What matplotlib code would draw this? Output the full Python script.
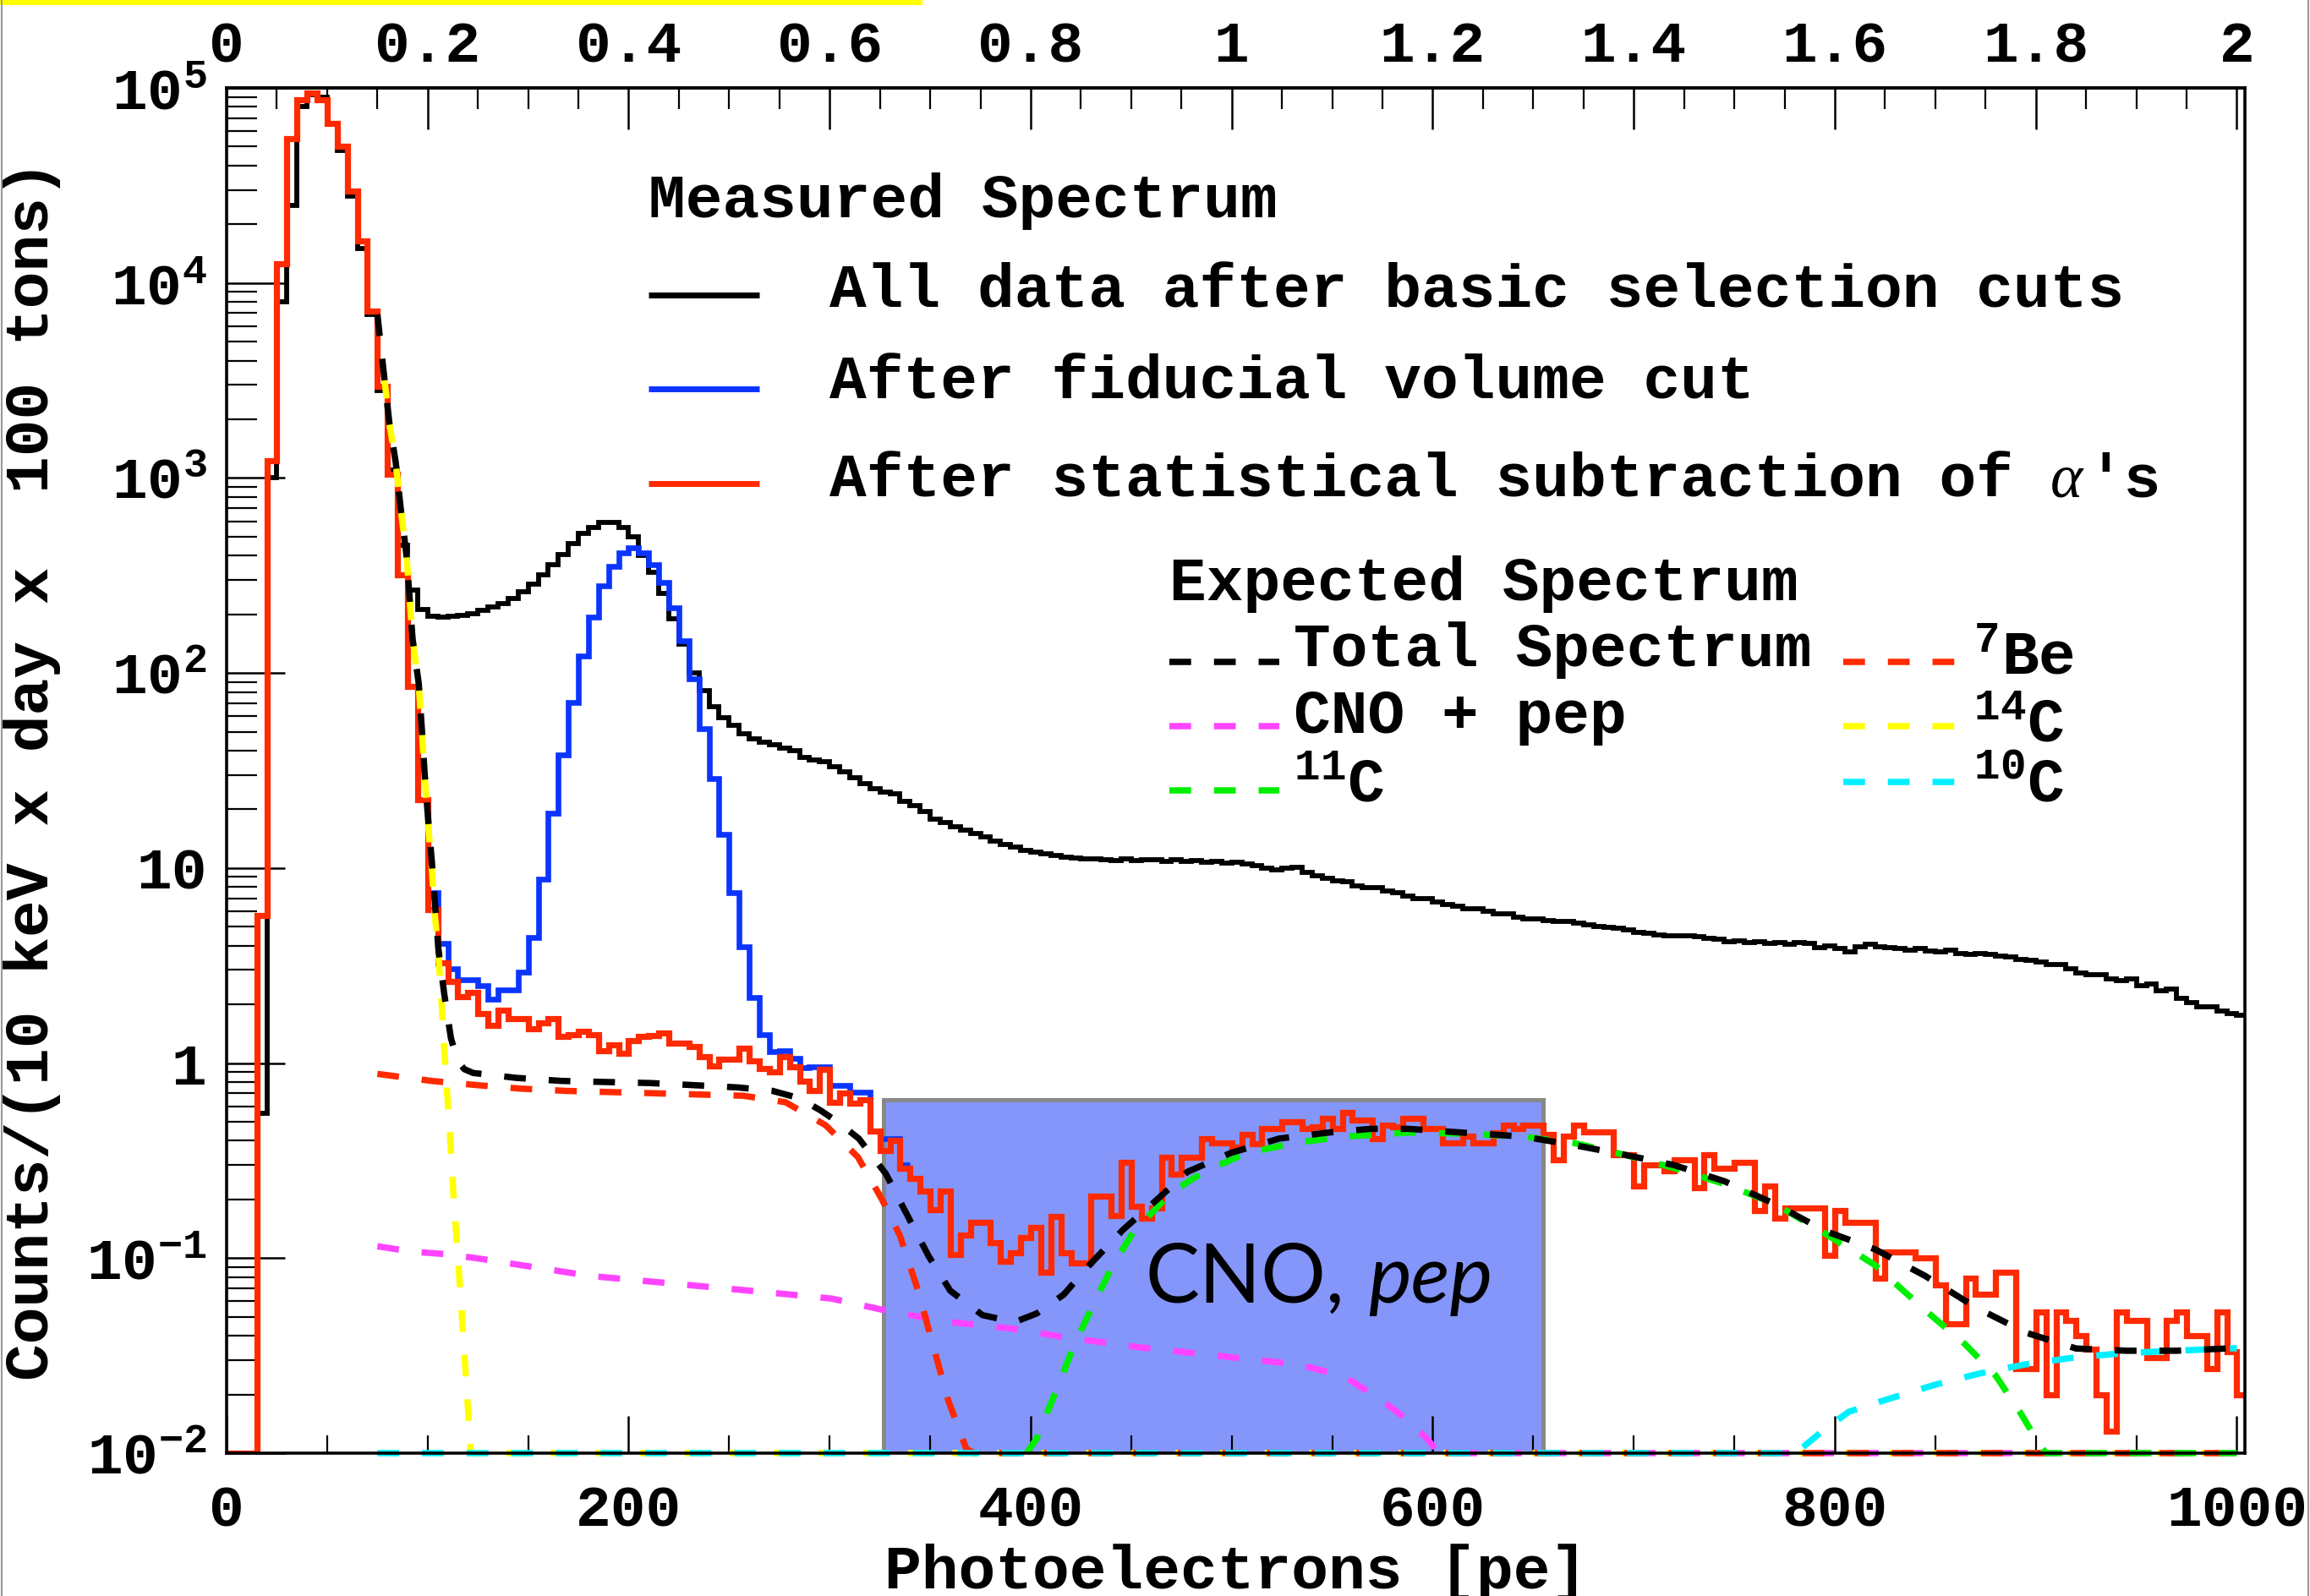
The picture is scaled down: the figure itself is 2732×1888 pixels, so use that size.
import numpy as np
import matplotlib
matplotlib.use("Agg")
import matplotlib.pyplot as plt
from matplotlib.lines import Line2D
from matplotlib.patches import Rectangle
from matplotlib.ticker import (MultipleLocator, LogLocator, NullFormatter,
                               FixedLocator, FixedFormatter, FuncFormatter)

# ---------------------------------------------------------------- data
# 5 pe wide bins, lower edges 0 ... 1000 pe
bin_starts = list(range(0, 1001, 5))
bin_width = 5

# all data after basic selection cuts
all_data_counts = [
    0.01, 0.01, 0.01, 0.55, 1000, 8000, 25000, 80000, 92000, 90000,     # 0-45
    65000, 48000, 28000, 15000, 6900, 2800, 1100, 450, 267, 212,        # 50-95
    196, 194, 196, 198, 202, 210, 218, 228, 240, 262,                   # 100-145
    286, 318, 359, 406, 462, 519, 560, 594, 594, 560,                   # 150-195
    500, 400, 330, 255, 190, 140, 100, 81, 67, 59,                      # 200-245
    54, 49, 46, 44, 43, 41, 40, 37, 36, 35,                             # 250-295
    33, 31, 29, 27, 25.5, 24.5, 24, 22, 21, 19.5,                       # 300-345
    17.8, 17.2, 16.3, 15.6, 15.0, 14.5, 13.8, 13.2, 12.8, 12.3,         # 350-395
    12.1, 11.8, 11.6, 11.4, 11.3, 11.1, 11.1, 11.0, 10.9, 11.1,         # 400-445
    10.9, 11.0, 11.0, 10.8, 11.0, 10.8, 10.9, 10.7, 10.8, 10.6,         # 450-495
    10.7, 10.5, 10.3, 10.0, 9.8, 10.0, 10.1, 9.5, 9.1, 8.9,             # 500-545
    8.6, 8.5, 8.1, 7.9, 7.9, 7.6, 7.5, 7.2, 7.0, 7.0,                   # 550-595
    6.7, 6.5, 6.4, 6.2, 6.2, 6.0, 5.8, 5.8, 5.6, 5.5,                   # 600-645
    5.5, 5.4, 5.3, 5.3, 5.2, 5.1, 5.0, 4.95, 4.9, 4.8,                  # 650-695
    4.7, 4.65, 4.55, 4.5, 4.5, 4.5, 4.45, 4.35, 4.3, 4.2,               # 700-745
    4.25, 4.15, 4.2, 4.1, 4.15, 4.05, 4.15, 4.1, 3.9, 4.0,              # 750-795
    3.85, 3.7, 3.95, 4.05, 3.95, 3.9, 3.85, 3.8, 3.85, 3.75,            # 800-845
    3.7, 3.8, 3.65, 3.6, 3.65, 3.6, 3.55, 3.5, 3.4, 3.35,               # 850-895
    3.3, 3.2, 3.2, 3.05, 2.9, 2.85, 2.85, 2.7, 2.65, 2.7,               # 900-945
    2.5, 2.55, 2.35, 2.4, 2.15, 2.05, 1.95, 1.95, 1.85, 1.8,            # 950-995
    1.75,                                                               # 1000
]

# after fiducial volume cut (bins 95 ... 335 pe)
fiducial_first_bin = 95
fiducial_counts = [
    22.4, 7.5, 4.1, 3.06, 2.67, 2.67, 2.49, 2.12, 2.38, 2.38,           # 95-140
    2.92, 4.4, 8.8, 19.1, 38, 70.6, 122, 194, 279, 351,                 # 145-190
    412, 437, 412, 359, 292, 217, 147, 93, 52, 28.9,                    # 195-240
    14.9, 7.5, 3.94, 2.17, 1.40, 1.15, 1.16, 1.06, 0.95, 0.96,          # 245-290
    0.96, 0.77, 0.77, 0.71, 0.71, 0.45, 0.41, 0.41, 0.30,               # 295-335
]

# after statistical subtraction of alphas
alpha_sub_counts = [
    0.01, 0.01, 0.01, 5.7, 1230, 12600, 55000, 87000, 94000, 87000,     # 0-45
    66000, 50000, 29500, 16400, 7200, 2950, 1050, 320, 85, 22.4,        # 50-95
    6.1, 3.25, 2.61, 2.2, 2.3, 1.8, 1.56, 1.86, 1.69, 1.69,             # 100-145
    1.50, 1.61, 1.69, 1.37, 1.40, 1.45, 1.40, 1.16, 1.24, 1.12,         # 150-195
    1.31, 1.37, 1.38, 1.42, 1.27, 1.27, 1.22, 1.08, 0.97, 1.05,         # 200-245
    1.05, 1.19, 1.03, 0.94, 0.90, 1.08, 0.96, 0.81, 0.72, 0.93,         # 250-295
    0.63, 0.70, 0.62, 0.65, 0.45, 0.355, 0.40, 0.29, 0.255, 0.221,      # 300-345
    0.177, 0.221, 0.104, 0.131, 0.153, 0.153, 0.12, 0.096, 0.106, 0.128,  # 350-395
    0.144, 0.085, 0.163, 0.106, 0.094, 0.094, 0.208, 0.208, 0.166, 0.31,  # 400-445
    0.184, 0.16, 0.18, 0.33, 0.27, 0.33, 0.33, 0.41, 0.39, 0.39,        # 450-495
    0.37, 0.43, 0.385, 0.46, 0.46, 0.50, 0.50, 0.46, 0.47, 0.52,        # 500-545
    0.46, 0.56, 0.51, 0.51, 0.41, 0.48, 0.47, 0.52, 0.52, 0.46,         # 550-595
    0.46, 0.39, 0.39, 0.42, 0.39, 0.39, 0.44, 0.48, 0.46, 0.48,         # 600-645
    0.48, 0.43, 0.32, 0.42, 0.48, 0.445, 0.445, 0.445, 0.34, 0.34,      # 650-695
    0.235, 0.30, 0.30, 0.28, 0.32, 0.32, 0.23, 0.34, 0.29, 0.29,        # 700-745
    0.31, 0.31, 0.175, 0.235, 0.16, 0.18, 0.18, 0.18, 0.18, 0.103,      # 750-795
    0.176, 0.153, 0.153, 0.153, 0.079, 0.108, 0.108, 0.108, 0.10, 0.10,  # 800-845
    0.073, 0.046, 0.046, 0.079, 0.065, 0.065, 0.085, 0.085, 0.027, 0.027,  # 850-895
    0.053, 0.020, 0.053, 0.048, 0.040, 0.034, 0.020, 0.013, 0.053, 0.048,  # 900-945
    0.048, 0.031, 0.031, 0.048, 0.053, 0.040, 0.040, 0.027, 0.053, 0.033,  # 950-995
    0.020,                                                              # 1000
]

# expected spectrum components (pe, counts)
total_pe = [75, 78.4, 81, 84.1, 86.5, 89.5, 92.5, 95.6, 97.1, 98.5, 100.2,
            102.1, 103.7, 105.4, 108.3, 111.6, 115, 118.3, 122.6, 144, 166.6,
            188, 210.6, 233, 254.5, 271.6, 285, 295.7, 305, 314.5, 328,
            338.6, 349.3, 360, 376, 392, 403, 416.4, 430, 446, 462, 478,
            499.5, 523.6, 547.8, 569, 588, 615, 645, 670, 694.7, 720, 745,
            770, 795, 820, 845, 870, 895, 920, 945, 970, 995, 1000]
total_val = [6900, 3300, 1900, 1210, 714, 400, 150, 88, 52, 30.7, 18.1,
             10.8, 6.46, 3.81, 2.25, 1.34, 1.02, 0.93, 0.89, 0.84, 0.81,
             0.80, 0.79, 0.77, 0.75, 0.72, 0.66, 0.57, 0.49, 0.41, 0.27,
             0.166, 0.102, 0.068, 0.051, 0.047, 0.052, 0.065, 0.094, 0.14,
             0.196, 0.277, 0.346, 0.41, 0.44, 0.46, 0.46, 0.44, 0.42, 0.38,
             0.34, 0.30, 0.248, 0.19, 0.138, 0.111, 0.081, 0.056, 0.0415,
             0.0344, 0.0335, 0.0335, 0.0344, 0.0345]

be7_pe = [75, 102, 125, 146, 169, 191, 213, 235, 257, 278, 298, 314, 326,
          335, 344, 352, 359, 368, 372, 1000]
be7_val = [0.88, 0.81, 0.77, 0.74, 0.72, 0.71, 0.70, 0.69, 0.68, 0.63, 0.48,
           0.33, 0.20, 0.13, 0.068, 0.034, 0.0186, 0.0105, 0.01, 0.01]

cno_pe = [75, 92, 108, 124, 181, 254, 274, 301, 331, 360, 390, 419, 454,
          494, 534, 556, 575, 588, 597, 603, 1000]
cno_val = [0.115, 0.108, 0.105, 0.10, 0.081, 0.069, 0.066, 0.062, 0.053,
           0.047, 0.0436, 0.039, 0.0349, 0.0315, 0.0284, 0.0247, 0.0186,
           0.0146, 0.0119, 0.01, 0.01]

c14_pe = [78.4, 81, 84.1, 86.5, 89.5, 92.5, 95.6, 97.1, 98.5, 100.2, 102.1,
          103.7, 105.4, 106.5, 108, 109.5, 111, 113, 116, 119, 121.5, 1000]
c14_val = [3300, 1900, 1210, 714, 400, 150, 87, 51, 30, 17, 9.8, 5.6, 3.6,
           2.4, 1.3, 0.75, 0.45, 0.2, 0.074, 0.025, 0.01, 0.01]

c11_pe = [398, 403, 412.4, 421.7, 429.8, 440.5, 451, 470, 486, 507.5, 531.7,
          555.8, 588, 615, 644.7, 670, 694.7, 720, 745, 770, 795, 820, 845,
          865, 880, 892, 900, 905, 1000]
c11_val = [0.01, 0.0119, 0.0206, 0.036, 0.054, 0.0906, 0.136, 0.217, 0.277,
           0.346, 0.39, 0.42, 0.44, 0.435, 0.42, 0.39, 0.34, 0.29, 0.24, 0.19,
           0.134, 0.092, 0.054, 0.036, 0.025, 0.0163, 0.0119, 0.01, 0.01]

c10_pe = [75, 781, 783.5, 794.7, 807, 827, 849.7, 872, 894.7, 919.7, 944.7,
          970, 995, 1000]
c10_val = [0.01, 0.01, 0.0106, 0.0132, 0.0163, 0.019, 0.0224, 0.0256, 0.0285,
           0.031, 0.0326, 0.0335, 0.0344, 0.0345]

# highlighted CNO / pep window
cno_window_pe = [327, 655]
cno_window_top = 0.65

y_tick_values = [1e-2, 1e-1, 1, 10, 1e2, 1e3, 1e4, 1e5]
y_tick_labels = [r'$10^{-2}$', r'$10^{-1}$', '1', '10', r'$10^{2}$',
                 r'$10^{3}$', r'$10^{4}$', r'$10^{5}$']

# ---------------------------------------------------------------- style
W, H, DPI = 2732, 1888, 100
plt.rcParams['font.family'] = ['Liberation Mono', 'DejaVu Sans']
plt.rcParams['font.weight'] = 'bold'
plt.rcParams['axes.labelweight'] = 'bold'
plt.rcParams['mathtext.default'] = 'regular'
plt.rcParams['lines.scale_dashes'] = False
plt.rcParams['lines.solid_capstyle'] = 'butt'
plt.rcParams['lines.dash_capstyle'] = 'butt'

BLACK = '#000000'
BLUE = '#0b35ff'
RED = '#ff2a00'
MAGENTA = '#ff44ff'
YELLOW = '#ffff00'
GREEN = '#00ee00'
CYAN = '#00f0ff'
DASH = (0, (18.5, 19.5))
DASH_LW = 5.4
FS = 52.5
TICK_FS = 50

fig = plt.figure(figsize=(W / DPI, H / DPI), dpi=DPI)
ax = fig.add_axes([268 / W, 1 - 1719 / H, (2655 - 268) / W, (1719 - 104) / H])
ax.set_yscale('log')
ax.set_xlim(0, 1004)
ax.set_ylim(1e-2, 1e5)

edges = np.array(bin_starts + [bin_starts[-1] + bin_width], dtype=float)
fv_edges = fiducial_first_bin + bin_width * np.arange(len(fiducial_counts) + 1)

# measured spectra
ax.stairs(all_data_counts, edges, baseline=None, color=BLACK, lw=4.2, zorder=3)
ax.stairs(fiducial_counts, fv_edges, baseline=None, color=BLUE, lw=4.8, zorder=4)
ax.stairs(alpha_sub_counts, edges, baseline=None, color=RED, lw=5.2, zorder=5)

# CNO / pep window
ax.add_patch(Rectangle((cno_window_pe[0], 1e-2), cno_window_pe[1] - cno_window_pe[0],
                       cno_window_top - 1e-2, facecolor='#8496fa',
                       edgecolor='#888888', lw=3.6, zorder=1))

# expected spectrum components
for xs, ys, col, z in [(c14_pe, c14_val, YELLOW, 6), (cno_pe, cno_val, MAGENTA, 7),
                       (be7_pe, be7_val, RED, 8), (c10_pe, c10_val, CYAN, 9),
                       (c11_pe, c11_val, GREEN, 10), (total_pe, total_val, BLACK, 11)]:
    ax.plot(xs, ys, color=col, lw=DASH_LW, linestyle=DASH, zorder=z, clip_on=False)

ax.text(457, 0.059, 'CNO,', family='Lato', fontweight='normal', fontsize=69,
        va='baseline', ha='left', zorder=12)
ax.text(568, 0.059, 'pep', family='Lato', fontweight='normal', style='italic',
        fontsize=69, va='baseline', ha='left', zorder=12)

# axes, ticks
for sp in ax.spines.values():
    sp.set_linewidth(2.6)
    sp.set_zorder(20)

ax.xaxis.set_major_locator(MultipleLocator(200))
ax.xaxis.set_minor_locator(MultipleLocator(50))
ax.xaxis.set_major_formatter(FuncFormatter(lambda v, p: '%d' % v))
ax.yaxis.set_major_locator(FixedLocator(y_tick_values))
ax.yaxis.set_major_formatter(FixedFormatter(y_tick_labels))
ax.yaxis.set_minor_locator(LogLocator(base=10, subs=np.arange(2, 10)))
ax.yaxis.set_minor_formatter(NullFormatter())

ax.tick_params(axis='x', which='major', direction='in', length=32, width=1.8,
               pad=26, labelsize=TICK_FS, top=False, bottom=True)
ax.tick_params(axis='x', which='minor', direction='in', length=15, width=1.6,
               top=False, bottom=True)
ax.tick_params(axis='y', which='major', direction='in', length=50, width=1.8,
               pad=17, labelsize=TICK_FS, left=True, right=False)
ax.tick_params(axis='y', which='minor', direction='in', length=26, width=1.6,
               left=True, right=False)

top = ax.secondary_xaxis('top', functions=(lambda x: x / 500.0, lambda e: e * 500.0))
top.xaxis.set_major_locator(MultipleLocator(0.2))
top.xaxis.set_minor_locator(MultipleLocator(0.05))
top.xaxis.set_major_formatter(FuncFormatter(lambda v, p: '%g' % round(v, 3)))
top.tick_params(axis='x', which='major', direction='in', length=35, width=1.8,
                pad=12, labelsize=TICK_FS)
top.tick_params(axis='x', which='minor', direction='in', length=18, width=1.6)
top.spines['top'].set_linewidth(2.6)

ax.set_xlabel('Photoelectrons [pe]', fontsize=FS, fontweight='bold', va='top')
ax.xaxis.set_label_coords(0.5, -0.066)
ax.set_ylabel('Counts/(10 keV x day x  100 tons)', fontsize=FS,
              fontweight='bold', va='center')
ax.yaxis.set_label_coords(-0.0964, 0.5)


# ---------------------------------------------------------------- legend
def fxy(px, py):
    return px / W, 1 - py / H


def legend_line(x0, x1, y, color, lw, ls='-'):
    (a, b), (c, _) = fxy(x0, y), fxy(x1, y)
    fig.add_artist(Line2D([a, c], [b, b], transform=fig.transFigure,
                          color=color, lw=lw, linestyle=ls))


def legend_text(x, y, s, **kw):
    fx, fy = fxy(x, y)
    fig.text(fx, fy, s, ha='left', va='baseline', fontsize=kw.pop('fontsize', FS), **kw)


CHAR = 0.6 * FS * DPI / 72.0

legend_text(767, 257, 'Measured Spectrum')
legend_line(767, 898, 349, BLACK, 5.0)
legend_text(981, 363, 'All data after basic selection cuts')
legend_line(767, 898, 460, BLUE, 5.0)
legend_text(981, 472, 'After fiducial volume cut')
legend_line(767, 898, 572, RED, 5.0)
legend_text(981, 588, 'After statistical subtraction of')
legend_text(981 + 33 * CHAR, 588, '\u03b1', family='Liberation Serif',
            fontweight='normal', style='italic')
legend_text(981 + 34 * CHAR, 588, "'s")

legend_text(1383, 710, 'Expected Spectrum')
legend_line(1383, 1513, 783, BLACK, DASH_LW, DASH)
legend_text(1530, 788, 'Total Spectrum')
legend_line(2180, 2314, 783, RED, DASH_LW, DASH)
legend_text(2334, 797, r'$^{7}$Be')
legend_line(1383, 1513, 859, MAGENTA, DASH_LW, DASH)
legend_text(1530, 867, 'CNO + pep')
legend_line(2180, 2314, 859, YELLOW, DASH_LW, DASH)
legend_text(2334, 877, r'$^{14}$C')
legend_line(1383, 1513, 935, GREEN, DASH_LW, DASH)
legend_text(1530, 948, r'$^{11}$C')
legend_line(2180, 2314, 925, CYAN, DASH_LW, DASH)
legend_text(2334, 948, r'$^{10}$C')

# page decorations
fig.add_artist(Rectangle((0, 1 - 6 / H), 1091 / W, 6 / H, transform=fig.transFigure,
                         facecolor='#ffff00', edgecolor='none'))
fig.add_artist(Line2D([1.5 / W, 1.5 / W], [0, 1], transform=fig.transFigure,
                      color='#999999', lw=1.5))
fig.add_artist(Line2D([1 - 2.5 / W, 1 - 2.5 / W], [0, 1], transform=fig.transFigure,
                      color='#999999', lw=1.5))

fig.savefig('out.png', dpi=DPI)
